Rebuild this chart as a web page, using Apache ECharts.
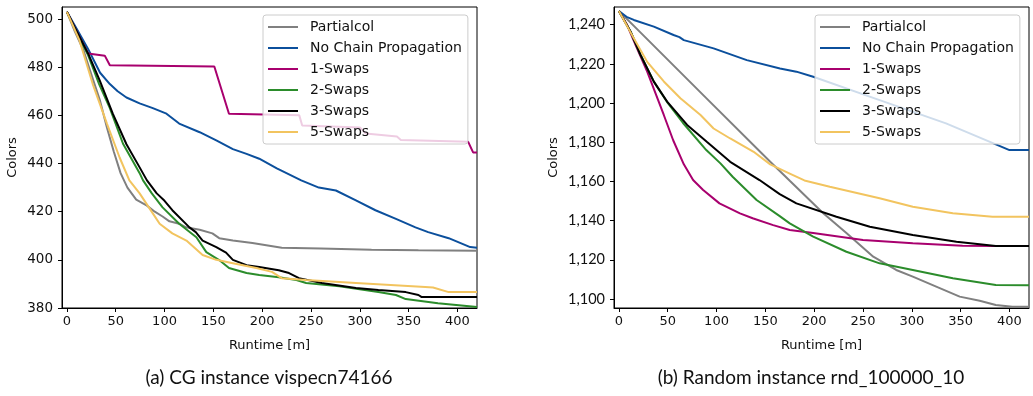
<!DOCTYPE html>
<html>
<head>
<meta charset="utf-8">
<script src="https://cdn.jsdelivr.net/npm/echarts@6/dist/echarts.min.js"></script>
<style>
  html, body { margin: 0; padding: 0; background: #fff; }
  #chart { width: 1033px; height: 396px; }
</style>
</head>
<body>
<div id="chart"></div>
<script>
// series names, legend order
const seriesNames = ["Partialcol", "No Chain Propagation", "1-Swaps", "2-Swaps", "3-Swaps", "5-Swaps"];
const seriesColors = ["#808080", "#0b4f9c", "#a8006e", "#2b8c2b", "#000000", "#f2c45f"];

// tick labels
const xTicks = [0, 50, 100, 150, 200, 250, 300, 350, 400];
const cgYTicks = [380, 400, 420, 440, 460, 480, 500];
const rndYTicks = [1100, 1120, 1140, 1160, 1180, 1200, 1220, 1240];

// (a) CG instance vispecn74166 : [runtime, colors]
const cgPartialcol = [[0,503],[8,495],[17,487],[25,477],[34,466],[41,455],[48,445],[55,436],[62,430],[71,425],[82,422.5],[90,420],[98,418],[105,416],[115,415],[122,413.5],[136,412.5],[149,411],[156,409],[170,408],[190,407],[220,405],[260,404.7],[312,404.2],[360,404],[420,403.8]];
const cgNoChain = [[0,503],[10,496],[21.7,487.6],[34,477.7],[44,473],[52,470],[61,467.4],[74.5,465],[88,463],[102,460.7],[115,456.6],[136,453],[153,449.6],[170,446],[184,444],[197,442],[215,438],[240,433],[258,430],[275.5,428.8],[296,424.7],[316,420.6],[337,417],[357,413.5],[370,411.5],[391,409],[413,405.3],[420,405]];
const cgSwap1 = [[0,503],[10,495],[21.7,485.7],[38.8,484.8],[44,480.8],[151,480.3],[166,460.7],[238,460],[241,455.8],[300,455],[306,452.5],[338,451.2],[342,449.8],[411,449],[416,444.6],[420,444.6]];
const cgSwap2 = [[0,503],[10,494.5],[21.7,485],[33,473],[44,463],[57.5,448.2],[74.5,436],[78,433],[87,427.6],[98,421.8],[115,415],[132.6,409.4],[142.8,403.2],[156,399.9],[166,396.6],[184,394.5],[197,393.7],[217,392.8],[235,391.6],[245,390.4],[279,389],[319,386.6],[337,385.4],[347,383.7],[380,382],[420,380.4]];
const cgSwap3 = [[0,503],[10,495],[21.7,485.7],[33.7,474.4],[47,460.7],[61,448],[74.5,438.4],[82,433],[92,427.6],[100,424.5],[108,420.6],[125.5,413.5],[132,411.5],[139,408],[153,405.3],[163,403],[170,400],[184,397.8],[197,397],[217,395.7],[227.5,394.5],[237.7,392.4],[261,390.4],[296,388.3],[319,387.5],[347,386.6],[360,385.4],[363,384.6],[420,384.6]];
const cgSwap5 = [[0,503],[13,491],[26.5,473],[41,456.6],[54,442.5],[64,433],[74.5,427.6],[88,419.3],[95,415],[108,411],[122.4,408],[139,402],[153,400],[170,398.6],[194,396.6],[210,395],[220,392.4],[245,391.6],[296,390.4],[367,388.7],[375,388.5],[391,386.6],[420,386.6]];

// (b) Random instance rnd_100000_10 : [runtime, colors]
const rndPartialcol = [[0,1247],[21.5,1236.3],[89.5,1202.5],[155,1170],[175,1160.3],[209,1143.9],[233,1133.7],[260.5,1121.6],[284,1114.8],[301,1111.4],[325,1106.3],[349,1101.2],[369.5,1099.1],[386,1096.9],[403,1096],[420,1096]];
const rndNoChain = [[0,1247],[7.8,1244],[15.3,1242.4],[35.8,1239],[56,1234.7],[62,1233.6],[66.5,1232.1],[97,1227.9],[131,1221.9],[165,1217.6],[181.8,1216],[199,1213.4],[267,1201.5],[335,1189.6],[380,1180.2],[400,1176],[420,1176]];
const rndSwap1 = [[0,1247],[8.5,1239.8],[18,1228.5],[29,1216],[46,1193.9],[55.6,1181],[66.5,1168.7],[76,1160.7],[86.3,1155.6],[103,1148.8],[124,1143.7],[137,1141.2],[158,1137.7],[175,1135.2],[199,1133.7],[250,1130.1],[301,1128.4],[352,1127.2],[386,1127],[420,1127]];
const rndSwap2 = [[0,1247],[12,1236.4],[22.2,1224.5],[35.8,1210.9],[49.4,1200.5],[65.7,1189.8],[89.5,1176],[104,1169.2],[116.5,1162.4],[141,1150.5],[164.7,1142.3],[175,1138.6],[199,1131.8],[233,1124.1],[267,1118.2],[301,1114.8],[342,1110.6],[386,1107.1],[420,1107]];
const rndSwap3 = [[0,1247],[12,1236.4],[22.2,1224.5],[35.8,1210.9],[49.4,1200.7],[69.9,1188.8],[90,1180.2],[114,1170],[144,1160.7],[164.7,1153.5],[181.8,1148.8],[222.8,1142],[257,1136.9],[301,1132.6],[345.7,1129.2],[386,1127],[420,1127]];
const rndSwap5 = [[0,1247],[15.3,1233],[29,1221],[46,1211],[63,1202.4],[83.6,1193.9],[97,1187],[114,1181.9],[138,1175.1],[155,1168.7],[175,1164],[190,1160.5],[216,1157.3],[267,1151.4],[301,1147.1],[342,1143.7],[382.6,1142],[420,1142]];

const cgData = [cgPartialcol, cgNoChain, cgSwap1, cgSwap2, cgSwap3, cgSwap5];
const rndData = [rndPartialcol, rndNoChain, rndSwap1, rndSwap2, rndSwap3, rndSwap5];

const chart = echarts.init(document.getElementById("chart"));

const tickFont = "DejaVu Sans";
const captionFont = "Lato";

function xAxisFor(gridIndex) {
  return {
    type: "value",
    gridIndex: gridIndex,
    min: -5,
    max: 420,
    name: "Runtime [m]",
    nameLocation: "middle",
    nameGap: 31,
    nameTextStyle: { fontFamily: tickFont, fontSize: 13, color: "#111" },
    axisLine: { show: true, onZero: false, lineStyle: { color: "#000", width: 1 } },
    axisTick: { show: true, length: 4, inside: false, customValues: xTicks, lineStyle: { color: "#000" } },
    axisLabel: { customValues: xTicks, margin: 7, fontFamily: tickFont, fontSize: 13, color: "#111" },
    splitLine: { show: false },
  };
}

function yAxisFor(gridIndex, lo, hi, ticks, labelFont, labelSize, fmt, gap) {
  return {
    type: "value",
    gridIndex: gridIndex,
    min: lo,
    max: hi,
    name: "Colors",
    nameLocation: "middle",
    nameGap: gap,
    nameTextStyle: { fontFamily: tickFont, fontSize: 13, color: "#111" },
    axisLine: { show: true, onZero: false, lineStyle: { color: "#000", width: 1 } },
    axisTick: { show: true, length: 4, inside: false, customValues: ticks, lineStyle: { color: "#000" } },
    axisLabel: { customValues: ticks, margin: 9, fontFamily: labelFont, fontSize: labelSize, color: "#111", formatter: fmt },
    splitLine: { show: false },
  };
}

function legendFor(left) {
  return {
    orient: "vertical",
    left: left,
    top: 15,
    data: seriesNames,
    icon: "path://M0,0 L30,0 L30,2 L0,2 Z",
    itemWidth: 30,
    itemHeight: 14,
    itemGap: 7,
    padding: [5, 6, 5, 5],
    backgroundColor: "rgba(255,255,255,0.8)",
    borderColor: "#cccccc",
    borderWidth: 1,
    borderRadius: 3,
    textStyle: { fontFamily: tickFont, fontSize: 14, color: "#111", lineHeight: 14, padding: [0, 0, 0, 7] },
  };
}

function makeSeries(dataSets, idx) {
  return dataSets.map((d, i) => ({
    name: seriesNames[i],
    type: "line",
    xAxisIndex: idx,
    yAxisIndex: idx,
    data: d,
    symbol: "none",
    color: seriesColors[i],
    lineStyle: { width: 2, color: seriesColors[i] },
  }));
}

const option = {
  animation: false,
  backgroundColor: "#fff",
  title: [
    { text: "(a) CG instance vispecn74166", left: 264, top: 363, textAlign: "center",
      textStyle: { fontFamily: captionFont, fontSize: 19, fontWeight: "normal", color: "#111" } },
    { text: "(b) Random instance rnd_100000_10", left: 806, top: 363, textAlign: "center",
      textStyle: { fontFamily: captionFont, fontSize: 19, fontWeight: "normal", color: "#111" } },
  ],
  grid: [
    { left: 62, top: 7, width: 415, height: 301, show: true, borderColor: "#000", borderWidth: 1, backgroundColor: "transparent" },
    { left: 614, top: 7, width: 415, height: 301, show: true, borderColor: "#000", borderWidth: 1, backgroundColor: "transparent" },
  ],
  xAxis: [xAxisFor(0), xAxisFor(1)],
  yAxis: [
    yAxisFor(0, 380, 505, cgYTicks, tickFont, 13.5, (v) => String(v), 43),
    yAxisFor(1, 1095.4, 1249, rndYTicks, captionFont, 14.5, (v) => v.toLocaleString("en-US"), 54),
  ],
  legend: [legendFor(263), legendFor(815)],
  series: makeSeries(cgData, 0).concat(makeSeries(rndData, 1)),
};

chart.setOption(option);
</script>
</body>
</html>
